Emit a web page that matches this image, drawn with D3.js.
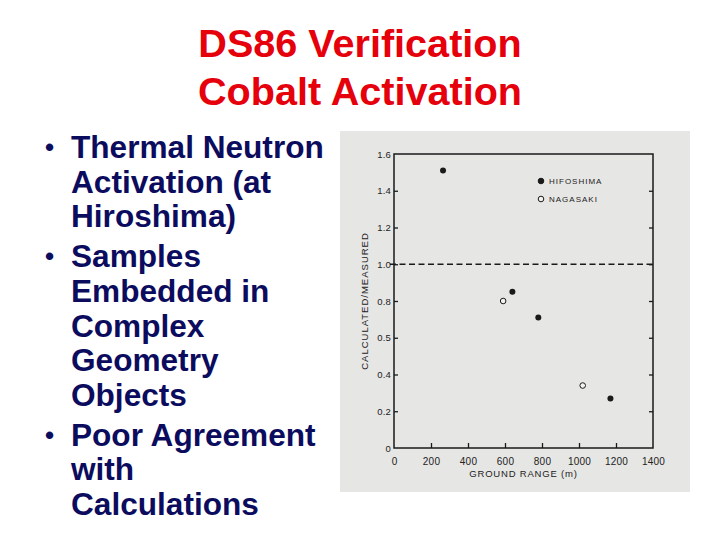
<!DOCTYPE html>
<html>
<head>
<meta charset="utf-8">
<script src="https://d3js.org/d3.v7.min.js"></script>
<style>
  body { margin: 0; background: #fff; }
  svg { display: block; }
</style>
</head>
<body>
<script>
// slide text
const titleLines = ["DS86 Verification", "Cobalt Activation"];
const bullets = [
  ["Thermal Neutron", "Activation (at", "Hiroshima)"],
  ["Samples", "Embedded in", "Complex", "Geometry", "Objects"],
  ["Poor Agreement", "with", "Calculations"]
];

// chart data (ground range in m, calculated/measured)
const hiroshimaRange = [265, 640, 780, 1170];
const hiroshimaRatio = [1.51, 0.85, 0.71, 0.27];
const nagasakiRange = [590, 1020];
const nagasakiRatio = [0.80, 0.34];

const xTicks = [0, 200, 400, 600, 800, 1000, 1200, 1400];
const yTicks = [0, 0.2, 0.4, 0.6, 0.8, 1.0, 1.2, 1.4, 1.6];
const yTickLabels = ["0", "0.2", "0.4", "0.5", "0.8", "1.0", "1.2", "1.4", "1.6"];
const legendNames = ["HIFOSHIMA", "NAGASAKI"];

const W = 720, H = 540;
const svg = d3.select("body").append("svg")
    .attr("width", W)
    .attr("height", H);

// title
svg.selectAll("text.title")
    .data(titleLines)
    .join("text")
    .attr("class", "title")
    .attr("x", 360)
    .attr("y", (d, i) => 57 + i * 48)
    .attr("text-anchor", "middle")
    .style("font-family", "Liberation Sans, Arial, sans-serif")
    .style("font-weight", "bold")
    .style("font-size", "39.6px")
    .style("fill", "#e5000b")
    .text(d => d);

// bullet list
const lineStep = 34.6, bulletGap = 5.5;
let y = 158;
bullets.forEach(function(lines) {
  svg.append("text")
      .attr("x", 45)
      .attr("y", y - 2)
      .style("font-family", "Liberation Sans, Arial, sans-serif")
      .style("font-weight", "bold")
      .style("font-size", "26px")
      .style("fill", "#0c0c5e")
      .text("\u2022");
  lines.forEach(function(line) {
    svg.append("text")
        .attr("x", 71)
        .attr("y", y)
        .style("font-family", "Liberation Sans, Arial, sans-serif")
        .style("font-weight", "bold")
        .style("font-size", "31.6px")
        .style("fill", "#0c0c5e")
        .text(line);
    y += lineStep;
  });
  y += bulletGap;
});

// scanned figure background
svg.append("rect")
    .attr("x", 340).attr("y", 131)
    .attr("width", 350).attr("height", 361)
    .attr("fill", "#e6e6e4");

const x = d3.scaleLinear().domain([0, 1400]).range([394, 653]);
const yS = d3.scaleLinear().domain([0, 1.6]).range([448, 154]);

const ink = "#1a1a1a";
const tickFont = "Liberation Sans, Arial, sans-serif";

// frame
svg.append("rect")
    .attr("x", x(0)).attr("y", yS(1.6))
    .attr("width", x(1400) - x(0)).attr("height", yS(0) - yS(1.6))
    .attr("fill", "none")
    .attr("stroke", ink)
    .attr("stroke-width", 1.5);

// axes (ticks point inward)
const xAxis = svg.append("g")
    .attr("transform", `translate(0,${yS(0)})`)
    .call(d3.axisBottom(x).tickValues(xTicks).tickSizeInner(-5).tickSizeOuter(0).tickPadding(10)
      .tickFormat(d3.format("d")));
const yAxis = svg.append("g")
    .attr("transform", `translate(${x(0)},0)`)
    .call(d3.axisLeft(yS).tickValues(yTicks).tickSizeInner(-4).tickSizeOuter(0).tickPadding(3)
      .tickFormat((d, i) => yTickLabels[i]));
const yAxisR = svg.append("g")
    .attr("transform", `translate(${x(1400)},0)`)
    .call(d3.axisRight(yS).tickValues(yTicks.slice(1, -1)).tickSizeInner(-4).tickSizeOuter(0).tickFormat(""));

[xAxis, yAxis, yAxisR].forEach(function(g) {
  g.select(".domain").remove();
  g.selectAll(".tick line").attr("stroke", ink).attr("stroke-width", 1.3);
  g.selectAll(".tick text")
      .style("font-family", tickFont)
      .style("font-size", "10px")
      .style("letter-spacing", "0.2px")
      .style("fill", "#222");
});
yAxis.selectAll(".tick text").style("font-size", "9.5px").attr("x", -3);
xAxis.selectAll(".tick").filter(d => d === 0 || d === 1400).select("line").remove();
yAxis.selectAll(".tick").filter(d => d === 0 || d === 1.6).select("line").remove();

// reference line at 1.0
svg.append("line")
    .attr("x1", x(0) - 4).attr("x2", x(1400))
    .attr("y1", yS(1.0)).attr("y2", yS(1.0))
    .attr("stroke", ink)
    .attr("stroke-width", 1.4)
    .attr("stroke-dasharray", "6,3.5");

// axis titles
svg.append("text")
    .attr("transform", `translate(368,${(yS(0) + yS(1.6)) / 2}) rotate(-90)`)
    .attr("text-anchor", "middle")
    .style("font-family", tickFont)
    .style("font-size", "9.5px")
    .style("letter-spacing", "1px")
    .style("fill", "#222")
    .text("CALCULATED/MEASURED");

svg.append("text")
    .attr("x", (x(0) + x(1400)) / 2)
    .attr("y", 477)
    .attr("text-anchor", "middle")
    .style("font-family", tickFont)
    .style("font-size", "9.5px")
    .style("letter-spacing", "0.8px")
    .style("fill", "#222")
    .text("GROUND RANGE (m)");

// points
const hiro = hiroshimaRange.map((r, i) => ({r: r, v: hiroshimaRatio[i]}));
const naga = nagasakiRange.map((r, i) => ({r: r, v: nagasakiRatio[i]}));

svg.selectAll("circle.hiro")
    .data(hiro)
    .join("circle")
    .attr("class", "hiro")
    .attr("cx", d => x(d.r))
    .attr("cy", d => yS(d.v))
    .attr("r", 3)
    .attr("fill", ink);

svg.selectAll("circle.naga")
    .data(naga)
    .join("circle")
    .attr("class", "naga")
    .attr("cx", d => x(d.r))
    .attr("cy", d => yS(d.v))
    .attr("r", 2.8)
    .attr("fill", "#f2f2f0")
    .attr("stroke", ink)
    .attr("stroke-width", 1);

// legend
const legend = svg.append("g").attr("transform", "translate(541,181)");
legend.selectAll("g")
    .data(legendNames)
    .join("g")
    .attr("transform", (d, i) => `translate(0,${i * 18})`)
    .each(function(d, i) {
      const g = d3.select(this);
      g.append("circle")
          .attr("r", 2.8)
          .attr("fill", i === 0 ? ink : "#f2f2f0")
          .attr("stroke", ink)
          .attr("stroke-width", 1);
      g.append("text")
          .attr("x", 8)
          .attr("y", 3)
          .style("font-family", tickFont)
          .style("font-size", "8px")
          .style("letter-spacing", "1px")
          .style("fill", "#222")
          .text(d);
    });
</script>
</body>
</html>
